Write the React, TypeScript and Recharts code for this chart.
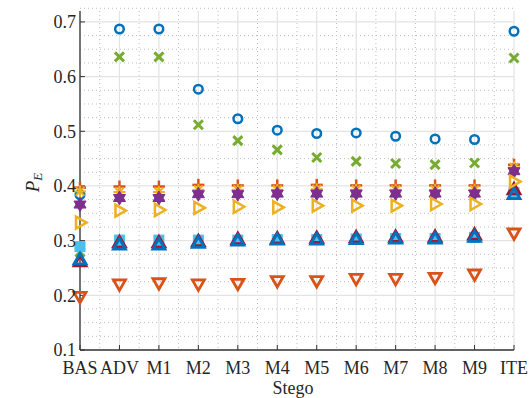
import { CartesianGrid, Scatter, ScatterChart, XAxis, YAxis } from "recharts";

const categories = ["BAS", "ADV", "M1", "M2", "M3", "M4", "M5", "M6", "M7", "M8", "M9", "ITE"];

const peCircle = [0.384, 0.687, 0.687, 0.577, 0.523, 0.502, 0.496, 0.497, 0.491, 0.486, 0.485, 0.683];
const pePlus = [0.397, 0.399, 0.399, 0.402, 0.401, 0.401, 0.402, 0.401, 0.401, 0.401, 0.401, 0.439];
const peStar = [0.39, 0.389, 0.389, 0.393, 0.393, 0.393, 0.394, 0.393, 0.393, 0.393, 0.393, 0.434];
const peHexagram = [0.366, 0.378, 0.378, 0.385, 0.385, 0.386, 0.386, 0.386, 0.386, 0.386, 0.386, 0.427];
const peCross = [0.279, 0.636, 0.636, 0.512, 0.483, 0.466, 0.452, 0.445, 0.441, 0.439, 0.442, 0.634];
const peSquare = [0.289, 0.301, 0.301, 0.301, 0.301, 0.302, 0.302, 0.303, 0.304, 0.304, 0.306, 0.388];
const peTriRed = [0.261, 0.296, 0.296, 0.298, 0.302, 0.303, 0.304, 0.305, 0.306, 0.306, 0.31, 0.393];
const peTriBlue = [0.265, 0.292, 0.292, 0.295, 0.299, 0.301, 0.301, 0.302, 0.303, 0.303, 0.306, 0.384];
const peDown = [0.198, 0.221, 0.223, 0.221, 0.222, 0.227, 0.227, 0.231, 0.231, 0.233, 0.239, 0.314];
const peRight = [0.333, 0.355, 0.356, 0.36, 0.362, 0.361, 0.364, 0.364, 0.364, 0.367, 0.367, 0.408];

const xTicks = [0, 1, 2, 3, 4, 5, 6, 7, 8, 9, 10, 11];
const xMinor = [0.5, 1.5, 2.5, 3.5, 4.5, 5.5, 6.5, 7.5, 8.5, 9.5, 10.5];
const yTicks = [0.1, 0.2, 0.3, 0.4, 0.5, 0.6, 0.7];
const yMinor = [
  0.125, 0.15, 0.175, 0.225, 0.25, 0.275, 0.325, 0.35, 0.375, 0.425, 0.45, 0.475,
  0.525, 0.55, 0.575, 0.625, 0.65, 0.675, 0.725,
];

type Marker = "circle" | "plus" | "star" | "hexagram" | "cross" | "square" | "up" | "down" | "right";

const series: { name: string; values: number[]; marker: Marker; color: string }[] = [
  { name: "circle", values: peCircle, marker: "circle", color: "#0072BD" },
  { name: "plus", values: pePlus, marker: "plus", color: "#D95319" },
  { name: "star", values: peStar, marker: "star", color: "#EDB120" },
  { name: "hexagram", values: peHexagram, marker: "hexagram", color: "#7E2F8E" },
  { name: "cross", values: peCross, marker: "cross", color: "#77AC30" },
  { name: "square", values: peSquare, marker: "square", color: "#4DBEEE" },
  { name: "triRed", values: peTriRed, marker: "up", color: "#A2142F" },
  { name: "triBlue", values: peTriBlue, marker: "up", color: "#0072BD" },
  { name: "down", values: peDown, marker: "down", color: "#D95319" },
  { name: "right", values: peRight, marker: "right", color: "#EDB120" },
];

const font = "'Liberation Serif', 'Times New Roman', Tinos, serif";
const axisColor = "#333";
const textColor = "#262626";

function pts(list: number[][], cx: number, cy: number) {
  return list.map(([dx, dy]) => `${cx + dx},${cy + dy}`).join(" ");
}

function markerShape(marker: Marker, color: string) {
  return (props: any) => {
    const { cx, cy } = props;
    if (cx == null || cy == null) return <g />;
    const sw = 2.5;
    switch (marker) {
      case "circle":
        return <circle cx={cx} cy={cy} r={4.3} fill="none" stroke={color} strokeWidth={sw} />;
      case "plus":
        return (
          <g stroke={color} strokeWidth={sw}>
            <line x1={cx - 6} y1={cy} x2={cx + 6} y2={cy} />
            <line x1={cx} y1={cy - 6} x2={cx} y2={cy + 6} />
          </g>
        );
      case "star":
        return (
          <g stroke={color} strokeWidth={2}>
            <line x1={cx - 6} y1={cy} x2={cx + 6} y2={cy} />
            <line x1={cx} y1={cy - 6} x2={cx} y2={cy + 6} />
            <line x1={cx - 4.3} y1={cy - 4.3} x2={cx + 4.3} y2={cy + 4.3} />
            <line x1={cx - 4.3} y1={cy + 4.3} x2={cx + 4.3} y2={cy - 4.3} />
          </g>
        );
      case "hexagram":
        return (
          <g fill={color} stroke={color} strokeWidth={1}>
            <polygon points={pts([[0, -7], [6, 3.5], [-6, 3.5]], cx, cy)} />
            <polygon points={pts([[0, 7], [6, -3.5], [-6, -3.5]], cx, cy)} />
          </g>
        );
      case "cross":
        return (
          <g stroke={color} strokeWidth={3}>
            <line x1={cx - 4.5} y1={cy - 4.5} x2={cx + 4.5} y2={cy + 4.5} />
            <line x1={cx - 4.5} y1={cy + 4.5} x2={cx + 4.5} y2={cy - 4.5} />
          </g>
        );
      case "square":
        return <rect x={cx - 5} y={cy - 5} width={10} height={10} fill={color} stroke={color} strokeWidth={1} />;
      case "up":
        return <polygon points={pts([[0, -6.5], [6, 4], [-6, 4]], cx, cy)} fill="none" stroke={color} strokeWidth={2.8} />;
      case "down":
        return <polygon points={pts([[0, 6.5], [6, -4], [-6, -4]], cx, cy)} fill="none" stroke={color} strokeWidth={2.8} />;
      case "right":
        return <polygon points={pts([[6.5, 0], [-4, 6], [-4, -6]], cx, cy)} fill="none" stroke={color} strokeWidth={sw} />;
    }
    return <g />;
  };
}

function PeLabel(props: any) {
  const { viewBox } = props;
  if (!viewBox) return null;
  const cx = viewBox.x + 39;
  const cy = viewBox.y + viewBox.height / 2 + 2;
  return (
    <text
      x={cx}
      y={cy}
      transform={`rotate(-90, ${cx}, ${cy})`}
      textAnchor="middle"
      fontFamily={font}
      fontStyle="italic"
      fontSize={19}
      fill={textColor}
    >
      P
      <tspan fontSize={13} dy={3}>
        E
      </tspan>
    </text>
  );
}

function StegoLabel(props: any) {
  const { viewBox } = props;
  if (!viewBox) return null;
  const cx = viewBox.x + viewBox.width / 2 - 4;
  const y = viewBox.y + viewBox.height - 4;
  return (
    <text x={cx} y={y} textAnchor="middle" fontFamily={font} fontSize={18} fill={textColor}>
      Stego
    </text>
  );
}

function XTick(props: any) {
  const { x, y, payload } = props;
  return (
    <text x={x} y={y} dy="0.71em" textAnchor="middle" fontFamily={font} fontSize={18} fill={textColor}>
      {categories[payload.value]}
    </text>
  );
}

function YTick(props: any) {
  const { x, y, payload } = props;
  return (
    <text x={x} y={y} dy="0.355em" textAnchor="end" fontFamily={font} fontSize={18} fill={textColor}>
      {payload.value}
    </text>
  );
}

export default function App() {
  return (
    <div
      style={{
        position: "absolute",
        left: 0,
        top: 0,
        width: 531,
        height: 398,
        background: "#fff",
        fontFamily: font,
      }}
    >
      <ScatterChart width={531} height={398} margin={{ top: 11, right: 17, bottom: 0, left: 0 }}>
        <CartesianGrid horizontalValues={yMinor} verticalValues={xMinor} stroke="#bdbdbd" strokeDasharray="1 3" />
        <CartesianGrid horizontalValues={yTicks} verticalValues={xTicks} stroke="#e3e3e3" strokeWidth={1.2} />
        <XAxis
          type="number"
          dataKey="x"
          domain={[0, 11]}
          ticks={xTicks}
          interval={0}
          tick={<XTick />}
          tickSize={-5}
          tickMargin={16}
          height={48}
          axisLine={{ stroke: axisColor, strokeWidth: 1.3 }}
          tickLine={{ stroke: axisColor }}
          label={<StegoLabel />}
        />
        <XAxis
          xAxisId="top"
          orientation="top"
          type="number"
          domain={[0, 11]}
          ticks={xTicks}
          interval={0}
          tick={false}
          tickSize={-5}
          height={0}
          axisLine={{ stroke: axisColor, strokeWidth: 1.3 }}
          tickLine={{ stroke: axisColor }}
        />
        <YAxis
          type="number"
          dataKey="y"
          domain={[0.1, 0.72]}
          ticks={yTicks}
          interval={0}
          tick={<YTick />}
          tickSize={-5}
          tickMargin={9}
          width={80}
          axisLine={{ stroke: axisColor, strokeWidth: 1.3 }}
          tickLine={{ stroke: axisColor }}
          label={<PeLabel />}
        />
        <YAxis
          yAxisId="right"
          orientation="right"
          type="number"
          domain={[0.1, 0.72]}
          ticks={yTicks}
          interval={0}
          tick={false}
          tickSize={-5}
          width={0}
          axisLine={{ stroke: axisColor, strokeWidth: 1.3 }}
          tickLine={{ stroke: axisColor }}
        />
        {series.map((s) => (
          <Scatter
            key={s.name}
            name={s.name}
            data={s.values.map((v, i) => ({ x: i, y: v }))}
            shape={markerShape(s.marker, s.color)}
            isAnimationActive={false}
          />
        ))}
      </ScatterChart>
    </div>
  );
}
